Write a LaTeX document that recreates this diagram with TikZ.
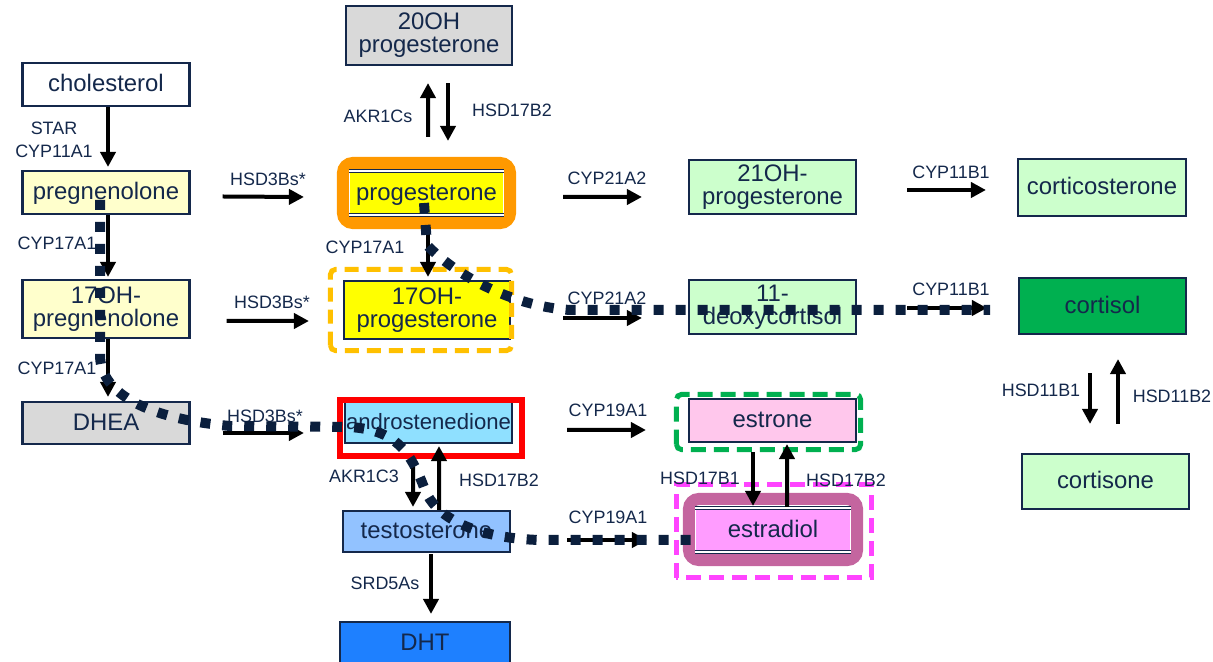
\documentclass[tikz,border=0pt]{standalone}
\usepackage{fontspec}
\setmainfont{Liberation Sans}
\usetikzlibrary{arrows.meta, positioning, calc}
\definecolor{InkNavy}{HTML}{14284B}
\definecolor{TrailNavy}{HTML}{0B1F3D}
\definecolor{PaleYellow}{HTML}{FFFFCC}
\definecolor{PureYellow}{HTML}{FFFF00}
\definecolor{SoftGrey}{HTML}{D9D9D9}
\definecolor{PaleGreen}{HTML}{CCFFCC}
\definecolor{DeepGreen}{HTML}{00B050}
\definecolor{SkyBlue}{HTML}{8FE0FF}
\definecolor{LightBlue}{HTML}{92C2FF}
\definecolor{StrongBlue}{HTML}{1E80FF}
\definecolor{PalePink}{HTML}{FFC7EC}
\definecolor{HotPink}{HTML}{FF9CFF}
\definecolor{FrameMauve}{HTML}{C4659F}
\definecolor{FrameMagenta}{HTML}{FF44FF}
\definecolor{FrameOrange}{HTML}{FF9900}
\definecolor{FrameGold}{HTML}{FFC000}
\newcommand{\rimlines}[1]{% double navy rims, top and bottom of #1
  \draw[InkNavy, line width=0.3pt, double=white, double distance=0.35pt]
    ([yshift=-0.02cm]#1.north west) -- ([yshift=-0.02cm]#1.north east);
  \draw[InkNavy, line width=0.3pt, double=white, double distance=0.35pt]
    ([yshift=0.02cm]#1.south west) -- ([yshift=0.02cm]#1.south east);
}

\begin{document}
\begin{tikzpicture}[
    box/.style={draw=InkNavy, line width=0.6pt, text=InkNavy, font=\fontsize{6.8}{6.5}\selectfont,
        align=center, minimum width=1.67cm, inner sep=0pt},
    solo/.style={text height=5.6pt, text depth=1.6pt},
    lab/.style={text=InkNavy, font=\fontsize{5.1}{6.5}\selectfont, align=center, inner sep=0pt},
    rx/.style={-{Triangle[length=0.15cm, width=0.15cm]}, line width=0.04cm, black},
    trail/.style={TrailNavy, line width=0.10cm, dash pattern=on 0.10cm off 0.12cm},
]
\useasboundingbox (0,0) rectangle (12.13,-6.62);

% ===== steroid boxes =====
\node[box, solo, fill=white, minimum height=0.43cm] (chol) at (1.06,-0.845) {cholesterol};
\node[box, solo, fill=PaleYellow, minimum height=0.43cm] (preg) at (1.06,-1.925) {pregnenolone};
\node[box, fill=PaleYellow, minimum height=0.58cm] (ohpreg) at (1.06,-3.09) {17OH-\\pregnenolone};
\node[box, solo, fill=SoftGrey, minimum height=0.42cm] (dhea) at (1.06,-4.23) {DHEA};
\node[box, fill=SoftGrey, minimum width=1.66cm, minimum height=0.59cm] (ohp20) at (4.29,-0.355) {20OH\\progesterone};
\node[box, solo, draw=none, fill=PureYellow, minimum width=1.53cm, minimum height=0.46cm] (prog) at (4.265,-1.93) {progesterone};
\node[box, fill=PureYellow, minimum width=1.66cm, minimum height=0.58cm] (ohprog) at (4.27,-3.10) {17OH-\\progesterone};
\node[box, solo, fill=SkyBlue, minimum height=0.41cm, font=\fontsize{6.3}{6.5}\selectfont] (andro) at (4.285,-4.225) {androstenedione};
\node[box, solo, fill=LightBlue, minimum height=0.41cm] (testo) at (4.265,-5.315) {testosterone};
\node[box, solo, fill=StrongBlue, minimum width=1.70cm, minimum height=0.42cm] (dht) at (4.25,-6.43) {DHT};
\node[box, fill=PaleGreen, minimum height=0.54cm] (oh21) at (7.725,-1.87) {21OH-\\progesterone};
\node[box, fill=PaleGreen, minimum height=0.54cm] (deoxy) at (7.725,-3.07) {11-\\deoxycortisol};
\node[box, solo, fill=PaleGreen, minimum width=1.68cm, minimum height=0.57cm] (corticost) at (11.02,-1.875) {corticosterone};
\node[box, solo, fill=DeepGreen, minimum height=0.56cm] (cortisol) at (11.025,-3.06) {cortisol};
\node[box, solo, fill=PaleGreen, minimum height=0.55cm] (cortisone) at (11.055,-4.815) {cortisone};
\node[box, solo, fill=PalePink, minimum height=0.43cm] (estrone) at (7.725,-4.205) {estrone};
\node[box, solo, draw=none, fill=HotPink, minimum width=1.54cm, minimum height=0.46cm] (estradiol) at (7.73,-5.30) {estradiol};

% ===== highlight frames =====
\draw[FrameOrange, line width=0.12cm, rounded corners=0.1cm]
    ($(prog.south west)+(-0.06,-0.06)$) rectangle ($(prog.north east)+(0.06,0.06)$);
\rimlines{prog}
\draw[FrameGold, line width=0.05cm, dash pattern=on 0.14cm off 0.08cm, rounded corners=0.05cm]
    ($(ohprog.south west)+(-0.125,-0.105)$) rectangle ($(ohprog.north east)+(0.005,0.105)$);
\draw[red, line width=0.055cm]
    ($(andro.south west)+(-0.04,-0.12)$) rectangle ($(andro.north east)+(0.09,0.01)$);
\draw[DeepGreen, line width=0.05cm, dash pattern=on 0.15cm off 0.08cm, rounded corners=0.05cm]
    ($(estrone.south west)+(-0.115,-0.065)$) rectangle ($(estrone.north east)+(0.035,0.035)$);
\draw[FrameMagenta, line width=0.05cm, dash pattern=on 0.15cm off 0.08cm]
    ($(estradiol.south west)+(-0.185,-0.235)$) rectangle ($(estradiol.north east)+(0.205,0.215)$);
\draw[FrameMauve, line width=0.12cm, rounded corners=0.1cm]
    ($(estradiol.south west)+(-0.06,-0.06)$) rectangle ($(estradiol.north east)+(0.06,0.07)$);
\rimlines{estradiol}

% ===== reactions =====
\draw[rx] ($(chol.south)+(0.02,0)$) -- ($(preg.north)+(0.02,0.03)$);
\draw[rx] ($(preg.south)+(0.02,0)$) -- ($(ohpreg.north)+(0.02,0.02)$);
\draw[rx] ($(ohpreg.south)+(0.02,0)$) -- ($(dhea.north)+(0.02,0.04)$);
\draw[rx] ($(preg.east)+(0.32,-0.04)$) -- ($(prog.west)+(-0.45,-0.04)$);
\draw[rx] ($(ohpreg.east)+(0.36,-0.12)$) -- ($(ohprog.west)+(-0.34,-0.11)$);
\draw[rx] ($(dhea.east)+(0.32,-0.10)$) -- ($(andro.west)+(-0.40,-0.105)$);
\draw[rx] ($(prog.north)+(0.015,0.32)$) -- ($(ohp20.south)+(-0.01,-0.17)$);
\draw[rx] ($(ohp20.south)+(0.19,-0.17)$) -- ($(prog.north)+(0.215,0.28)$);
\draw[rx] ($(prog.south)+(0.015,-0.12)$) -- ($(ohprog.north)+(0.01,0.03)$);
\draw[rx] ($(prog.east)+(0.59,-0.04)$) -- ($(oh21.west)+(-0.46,-0.10)$);
\draw[rx] ($(ohprog.east)+(0.52,-0.08)$) -- ($(deoxy.west)+(-0.46,-0.11)$);
\draw[rx] ($(oh21.east)+(0.50,-0.03)$) -- ($(corticost.west)+(-0.31,-0.025)$);
\draw[rx] ($(deoxy.east)+(0.50,-0.01)$) -- ($(cortisol.west)+(-0.31,-0.02)$);
\draw[rx] ($(cortisol.south)+(-0.125,-0.38)$) -- ($(cortisone.north)+(-0.155,0.29)$);
\draw[rx] ($(cortisone.north)+(0.125,0.29)$) -- ($(cortisol.south)+(0.155,-0.24)$);
\draw[rx] ($(andro.east)+(0.54,-0.075)$) -- ($(estrone.west)+(-0.42,-0.095)$);
\draw[rx] ($(testo.east)+(0.56,-0.085)$) -- ($(estradiol.west)+(-0.48,-0.10)$);
\draw[rx] ($(andro.south)+(-0.155,-0.15)$) -- ($(testo.north)+(-0.135,0.03)$);
\draw[rx] ($(testo.north)+(0.125,0)$) -- ($(andro.south)+(0.105,-0.02)$);
\draw[rx] ($(estrone.south)+(-0.195,-0.09)$) -- ($(estradiol.north)+(-0.20,0)$);
\draw[rx] ($(estradiol.north)+(0.14,-0.01)$) -- ($(estrone.south)+(0.145,-0.01)$);
\draw[rx] ($(testo.south)+(0.045,-0.01)$) -- ($(dht.north)+(0.06,0.07)$);

% ===== enzymes =====
\node[lab] (e1) at (0.54,-1.395) {STAR\\CYP11A1};
\node[lab] (e2) at (0.57,-2.43) {CYP17A1};
\node[lab] (e3) at (0.57,-3.68) {CYP17A1};
\node[lab] (e4) at (2.68,-1.79) {HSD3Bs*};
\node[lab] (e5) at (2.72,-3.02) {HSD3Bs*};
\node[lab] (e6) at (2.65,-4.16) {HSD3Bs*};
\node[lab] (e7) at (3.78,-1.16) {AKR1Cs};
\node[lab] (e8) at (5.12,-1.10) {HSD17B2};
\node[lab] (e9) at (3.65,-2.47) {CYP17A1};
\node[lab] (e10) at (6.07,-1.78) {CYP21A2};
\node[lab] (e11) at (6.07,-2.98) {CYP21A2};
\node[lab] (e12) at (9.51,-1.72) {CYP11B1};
\node[lab] (e13) at (9.51,-2.89) {CYP11B1};
\node[lab] (e14) at (10.41,-3.90) {HSD11B1};
\node[lab] (e15) at (11.72,-3.96) {HSD11B2};
\node[lab] (e16) at (6.08,-4.10) {CYP19A1};
\node[lab] (e17) at (6.08,-5.17) {CYP19A1};
\node[lab] (e18) at (3.64,-4.76) {AKR1C3};
\node[lab] (e19) at (4.99,-4.80) {HSD17B2};
\node[lab] (e20) at (7.00,-4.78) {HSD17B1};
\node[lab] (e21) at (8.46,-4.80) {HSD17B2};
\node[lab] (e22) at (3.85,-5.83) {SRD5As};

% ===== dotted routes =====
\draw[trail] (1.00,-2.00) -- (1.00,-3.55) .. controls (1.00,-3.90) and (1.40,-4.18) .. (2.30,-4.26)
    -- (3.50,-4.27) .. controls (3.95,-4.30) and (4.10,-4.50) .. (4.25,-4.90)
    .. controls (4.35,-5.15) and (4.70,-5.38) .. (5.40,-5.40) -- (6.95,-5.40);
\draw[trail] (4.24,-2.03) -- (4.27,-2.45) .. controls (4.45,-2.65) and (5.00,-3.05) .. (5.70,-3.10)
    -- (9.90,-3.10);

\end{tikzpicture}
\end{document}
